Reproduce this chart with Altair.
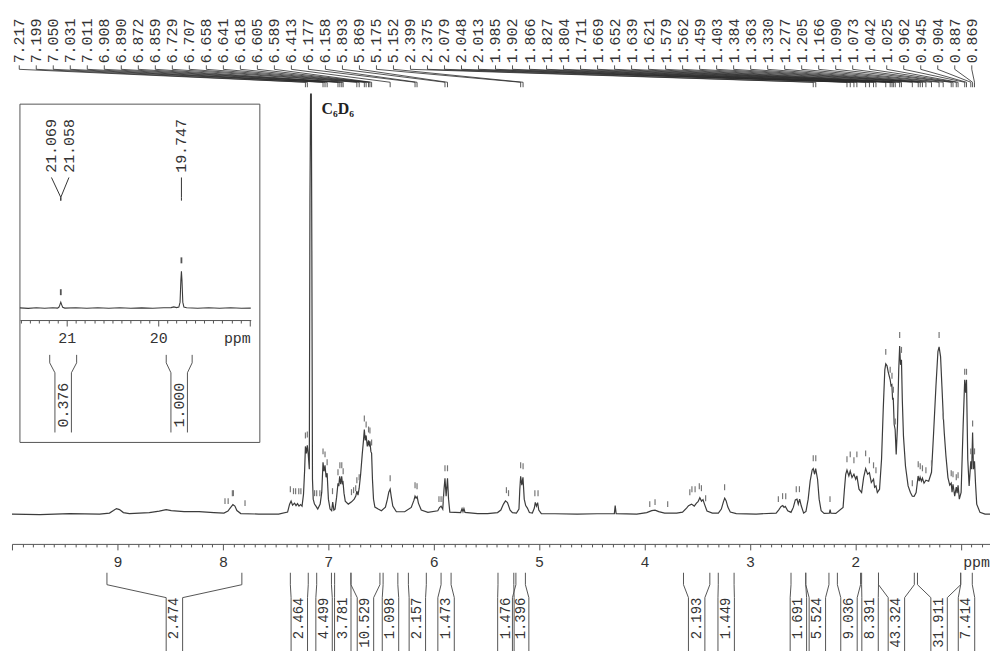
import altair as alt
import pandas as pd
import numpy as np

# ---------------- data ----------------
# 1H spectrum trace: (ppm, intensity in a.u.)
spectrum = [
    (10.001, 0), (9.736, -0.5), (9.453, 0.5), (9.170, 0), (9.076, 1), (9.038, 3.5), (9.010, 5.5),
    (8.981, 4.5), (8.944, 1.5), (8.887, 0.5), (8.698, 1.5), (8.604, 3), (8.538, 4.5), (8.490, 3.5),
    (8.368, 2.5), (8.226, 2.5), (8.085, 1.5), (7.990, 1), (7.952, 3), (7.924, 7), (7.905, 9.5),
    (7.886, 8), (7.867, 3.5), (7.830, 0.5), (7.660, 0), (7.471, 0), (7.386, 2), (7.367, 10),
    (7.353, 13), (7.339, 9), (7.320, 11), (7.306, 8.5), (7.292, 10.5), (7.278, 8), (7.263, 9.5),
    (7.249, 8), (7.235, 20), (7.224, 45), (7.217, 68), (7.208, 61), (7.199, 69), (7.190, 60),
    (7.180, 45), (7.174, 315), (7.168, 422), (7.161, 422), (7.156, 265), (7.150, 35), (7.143, 15),
    (7.131, 10), (7.117, 8), (7.100, 5), (7.077, 10), (7.062, 22), (7.050, 52), (7.041, 43),
    (7.031, 49), (7.021, 37), (7.011, 41), (6.999, 15), (6.983, 5), (6.968, 3.3), (6.958, 12),
    (6.947, 4), (6.936, 5), (6.921, 17), (6.908, 31), (6.900, 28), (6.892, 38), (6.882, 30),
    (6.873, 38), (6.866, 31), (6.860, 32), (6.851, 21), (6.839, 13), (6.810, 10), (6.779, 12.3),
    (6.754, 15), (6.739, 18), (6.729, 23), (6.718, 19), (6.707, 26), (6.693, 40), (6.678, 60),
    (6.667, 73), (6.658, 85), (6.650, 74), (6.641, 79), (6.630, 68), (6.618, 74), (6.611, 68),
    (6.605, 73), (6.596, 63), (6.589, 61), (6.581, 35), (6.571, 15), (6.558, 7), (6.527, 5),
    (6.496, 3.3), (6.458, 7), (6.439, 15), (6.426, 22), (6.413, 25), (6.402, 17), (6.388, 8),
    (6.354, 2.3), (6.275, 2.3), (6.213, 6.7), (6.187, 14), (6.177, 18), (6.167, 16), (6.157, 17.5),
    (6.145, 11), (6.118, 4), (6.055, 1.7), (5.961, 3.3), (5.945, 6.5), (5.930, 8), (5.914, 5),
    (5.902, 25), (5.893, 36), (5.882, 18), (5.869, 36), (5.859, 15), (5.847, 2), (5.744, 1.5),
    (5.731, 5.5), (5.722, 2.3), (5.713, 5.5), (5.703, 1.7), (5.583, 0.5), (5.489, 0.5),
    (5.394, 1.5), (5.363, 4), (5.338, 10), (5.319, 13.3), (5.300, 11.5), (5.275, 4), (5.253, 1.5),
    (5.215, 1), (5.191, 5), (5.183, 25), (5.175, 38), (5.164, 29), (5.153, 37), (5.141, 15),
    (5.127, 8.5), (5.111, 6), (5.092, 1.5), (5.064, 1), (5.045, 6), (5.036, 11.7), (5.025, 8),
    (5.014, 11.5), (5.003, 4), (4.979, 0.5), (4.850, 0.3), (4.639, 0), (4.450, 0.3), (4.286, 0.5),
    (4.278, 8.5), (4.269, 0.5), (4.073, 0), (3.979, 1.5), (3.931, 3.5), (3.900, 4), (3.865, 2.5),
    (3.809, 1), (3.695, 1), (3.639, 2), (3.601, 6), (3.582, 8.5), (3.554, 10), (3.528, 8),
    (3.507, 11), (3.492, 12.5), (3.475, 16.5), (3.459, 13), (3.445, 14.5), (3.431, 10), (3.407, 3),
    (3.356, 1), (3.299, 1), (3.271, 5), (3.252, 12), (3.239, 16), (3.226, 13.5), (3.209, 7),
    (3.186, 2), (3.129, 0.5), (2.940, 0), (2.751, 1), (2.726, 4.3), (2.704, 7.7), (2.688, 8.5),
    (2.676, 6.7), (2.664, 7.7), (2.641, 3.3), (2.610, 1.7), (2.588, 6.7), (2.569, 14.3),
    (2.553, 15), (2.541, 10), (2.528, 15), (2.513, 8.3), (2.490, 1), (2.468, 2.7), (2.447, 15),
    (2.428, 33.3), (2.409, 44.3), (2.399, 45.7), (2.386, 40), (2.376, 45.7), (2.358, 35),
    (2.343, 15), (2.324, 3.3), (2.296, 0.7), (2.246, 1), (2.239, 4.5), (2.232, 1), (2.185, 0.7),
    (2.116, 6.7), (2.103, 25), (2.091, 40), (2.079, 44.3), (2.061, 38.3), (2.048, 43.3),
    (2.031, 36.7), (2.013, 40), (1.996, 35), (1.985, 38.3), (1.965, 25), (1.940, 21.7),
    (1.921, 36.7), (1.902, 45.7), (1.883, 40), (1.866, 41.7), (1.848, 31.7), (1.827, 35),
    (1.817, 27), (1.804, 28.3), (1.791, 21.7), (1.770, 25), (1.751, 55), (1.735, 105),
    (1.720, 145), (1.711, 151), (1.699, 149), (1.688, 143), (1.669, 135), (1.661, 129),
    (1.653, 130), (1.646, 115), (1.640, 117), (1.631, 90), (1.622, 85), (1.612, 60), (1.600, 88.3),
    (1.588, 145), (1.579, 169), (1.571, 150), (1.562, 155), (1.554, 115), (1.543, 78.3),
    (1.524, 48.3), (1.499, 28.3), (1.477, 21.7), (1.459, 18), (1.442, 17.7), (1.423, 21.7),
    (1.404, 38.3), (1.394, 33), (1.385, 37), (1.373, 33), (1.363, 36), (1.348, 31), (1.330, 34),
    (1.304, 33), (1.277, 42), (1.257, 81.7), (1.235, 128.3), (1.216, 163.3), (1.205, 168),
    (1.191, 158.3), (1.178, 128.3), (1.167, 102), (1.156, 81.7), (1.140, 58.3), (1.121, 36.7),
    (1.104, 29), (1.090, 31), (1.082, 22), (1.073, 30), (1.057, 18), (1.042, 27), (1.034, 21),
    (1.025, 29), (1.013, 15), (0.996, 21.7), (0.977, 88.3), (0.962, 135), (0.953, 122),
    (0.945, 135), (0.933, 55), (0.920, 28.3), (0.904, 53), (0.896, 45), (0.887, 82), (0.879, 45),
    (0.869, 53), (0.859, 30), (0.848, 10), (0.817, 1.7), (0.769, 0), (0.722, 0),
]

# picked peaks (labels at the top)
peak_labels = [
    7.217, 7.199, 7.050, 7.031, 7.011, 6.908, 6.890, 6.872, 6.859, 6.729, 6.707, 6.658, 6.641,
    6.618, 6.605, 6.589, 6.413, 6.177, 6.158, 5.893, 5.869, 5.175, 5.152, 2.399, 2.375, 2.079,
    2.048, 2.013, 1.985, 1.902, 1.866, 1.827, 1.804, 1.711, 1.669, 1.652, 1.639, 1.621, 1.579,
    1.562, 1.459, 1.403, 1.384, 1.363, 1.330, 1.277, 1.205, 1.166, 1.090, 1.073, 1.042, 1.025,
    0.962, 0.945, 0.904, 0.887, 0.869,
]

# small peak-pick marks above the trace: (ppm, intensity of mark foot)
pick_marks = [
    (7.217, 76), (7.199, 77), (7.050, 60), (7.031, 57), (7.011, 49), (6.908, 39), (6.890, 46),
    (6.872, 46), (6.859, 40), (6.729, 31), (6.707, 34), (6.658, 93), (6.641, 87), (6.618, 82),
    (6.605, 81), (6.589, 69), (6.413, 33), (6.177, 26), (6.158, 25), (5.893, 43), (5.869, 43),
    (5.175, 46), (5.152, 45), (2.399, 53), (2.375, 53), (2.079, 52), (2.048, 57), (2.013, 51),
    (1.985, 57), (1.902, 58), (1.866, 51), (1.827, 46), (1.804, 41), (1.711, 160), (1.669, 142),
    (1.652, 136), (1.639, 122), (1.621, 90), (1.579, 177), (1.562, 162), (1.459, 28), (1.403, 47),
    (1.384, 45), (1.363, 43), (1.330, 41), (1.277, 48), (1.205, 177), (1.166, 95), (1.090, 38),
    (1.073, 37), (1.042, 34), (1.025, 36), (0.962, 140), (0.945, 140), (0.904, 60), (0.887, 88),
    (0.869, 60),
    (7.98, 10), (7.95, 10), (7.91, 18), (7.90, 18), (7.79, 8), (7.36, 22), (7.33, 20), (7.31, 20),
    (7.28, 20), (7.26, 20), (7.13, 18), (7.11, 18), (7.08, 18), (6.96, 20), (6.78, 19), (6.76, 21),
    (6.74, 23), (5.95, 12), (5.93, 12), (5.91, 12), (5.31, 21), (5.29, 18), (5.04, 18), (5.01, 18),
    (3.95, 7), (3.90, 9), (3.78, 7), (3.57, 19), (3.55, 22), (3.52, 22), (3.48, 25), (3.46, 23),
    (3.42, 13), (3.24, 24), (2.73, 12), (2.69, 15), (2.66, 15), (2.56, 22), (2.53, 22), (2.24, 12),
]

# integrals: (start ppm, end ppm) and value
integral_ranges = [
    (9.10, 7.82), (7.36, 7.19), (7.11, 6.97), (6.94, 6.785), (6.785, 6.51), (6.48, 6.34),
    (6.24, 6.07), (5.93, 5.835), (5.39, 5.24), (5.22, 5.13), (3.63, 3.38), (3.30, 3.15),
    (2.61, 2.47), (2.47, 2.25), (2.17, 1.95), (1.94, 1.78), (1.78, 1.44), (1.41, 1.00), (1.00, 0.89),
]
integral_values = [
    "2.474", "2.464", "4.499", "3.781", "10.529", "1.098", "2.157", "1.473", "1.476", "1.396",
    "2.193", "1.449", "1.691", "5.524", "9.036", "8.391", "43.324", "31.911", "7.414",
]

# inset (13C region)
inset_spectrum = [
    (21.51, 0.2), (21.42, -0.3), (21.33, 0.3), (21.24, -0.2), (21.15, 0.3), (21.10, 0),
    (21.085, 0.8), (21.075, 3), (21.064, 6), (21.053, 3), (21.043, 0.8), (21.02, 0), (20.90, 0.3),
    (20.78, -0.2), (20.66, 0.3), (20.54, -0.2), (20.42, 0.3), (20.30, -0.2), (20.18, 0.2),
    (20.06, -0.2), (19.94, 0.3), (19.86, 0.5), (19.83, 1.2), (19.80, 0.5), (19.775, 1),
    (19.762, 6), (19.753, 28), (19.747, 37), (19.741, 28), (19.732, 6), (19.72, 1), (19.69, 0.3),
    (19.57, -0.2), (19.45, 0.3), (19.33, -0.2), (19.21, 0.3), (19.09, -0.2), (18.99, 0),
]
inset_peaks = [21.069, 21.058, 19.747]
inset_peak_pos = [21.064, 21.064, 19.747]
inset_label_pos = [21.166, 20.975, 19.747]
inset_marks = [(21.064, 13), (19.747, 45)]
inset_integral_ranges = [(21.185, 20.891), (19.913, 19.630)]
inset_integral_values = ["0.376", "1.000"]

# ---------------- styling / layout ----------------
FONT = "Liberation Mono"
TXT = "#333333"
LINE = "#3c3c3c"

W, H = 983, 537
xs = alt.Scale(domain=[0.722, 10.001], reverse=True, nice=False, zero=False)
ys = alt.Scale(domain=[-30, 507], nice=False, zero=False)

main_ticks = [round(k / 10, 1) for k in range(8, 101)]
main_axis = alt.Axis(
    values=main_ticks, title=None, grid=False,
    labelExpr="(datum.value % 1 == 0 && datum.value >= 2 && datum.value <= 9) ? format(datum.value, 'd') : ''",
    tickSize={"condition": {"test": "datum.value % 1 == 0", "value": 6}, "value": 3},
    labelFont=FONT, labelFontSize=15, labelColor=TXT, labelPadding=5,
    domainColor="#555", tickColor="#555", labelOverlap=False, labelFlush=False, labelBound=False,
)
X = alt.X("ppm:Q", scale=xs, axis=main_axis)
Y = alt.Y("v:Q", scale=ys, axis=None)

spec_df = pd.DataFrame(spectrum, columns=["ppm", "v"])
spec_df["k"] = np.arange(len(spec_df))
trace = alt.Chart(spec_df).mark_line(color=LINE, strokeWidth=1.2).encode(X, Y, order="k:Q")

mk_df = pd.DataFrame(pick_marks, columns=["ppm", "v"])
mk_df["v2"] = mk_df["v"] + 6
marks = alt.Chart(mk_df).mark_rule(color="#777", strokeWidth=1.2).encode(X, Y, y2="v2:Q")

# top labels, evenly spread, with connectors
n = len(peak_labels)
lab_x = np.linspace(9.932, 0.895, n)
lab_df = pd.DataFrame({"ppm": lab_x, "v": 453, "t": [f"{p:.3f}" for p in peak_labels]})
top_text = alt.Chart(lab_df).mark_text(
    angle=270, align="left", baseline="middle", font=FONT, fontSize=15, color=TXT
).encode(X, Y, text="t:N")
conn_rows = []
for i, (lx, p) in enumerate(zip(lab_x, peak_labels)):
    for k, (xx, vv) in enumerate([(lx, 451), (lx, 447), (p, 434), (p, 429)]):
        conn_rows.append({"id": i, "k": k, "ppm": xx, "v": vv})
conn = alt.Chart(pd.DataFrame(conn_rows)).mark_line(color="#2a2a2a", strokeWidth=0.8).encode(
    X, Y, detail="id:N", order="k:Q")

# integrals below the axis
HW = 0.078
LV = [-59, -71, -84, -140]
br_rows, it_rows = [], []
for i, ((hi, lo), val) in enumerate(zip(integral_ranges, integral_values)):
    c = (hi + lo) / 2
    for side, edge, inner in (("l", hi, c + HW), ("r", lo, c - HW)):
        for k, (xx, vv) in enumerate([(edge, LV[0]), (edge, LV[1]), (inner, LV[2]), (inner, LV[3])]):
            br_rows.append({"id": f"{i}{side}", "k": k, "ppm": xx, "v": vv})
    it_rows.append({"ppm": c, "v": -84, "t": val})
brackets = alt.Chart(pd.DataFrame(br_rows)).mark_line(color="#555", strokeWidth=1).encode(
    X, Y, detail="id:N", order="k:Q")
int_text = alt.Chart(pd.DataFrame(it_rows)).mark_text(
    angle=270, align="right", baseline="middle", font=FONT, fontSize=14, color=TXT
).encode(X, Y, text="t:N")

solvent = alt.Chart(pd.DataFrame({"ppm": [7.065], "v": [402], "t": ["C₆D₆"]})).mark_text(
    align="left", baseline="alphabetic", font="Liberation Serif", fontSize=16, fontWeight="bold",
    color="#222"
).encode(X, Y, text="t:N")
ppm_main = alt.Chart(pd.DataFrame({"ppm": [0.722], "v": [-48], "t": ["ppm"]})).mark_text(
    align="right", baseline="middle", font=FONT, fontSize=15, color=TXT
).encode(X, Y, text="t:N")

main = alt.layer(trace, marks, conn, top_text, brackets, int_text, solvent, ppm_main)

# ---------------- inset ----------------
ixs = alt.Scale(domain=[18.99, 21.51], range=[240, 8], nice=False, zero=False)
iys = alt.Scale(domain=[0, 100], range=[300, 200], nice=False, zero=False)
inset_ticks = [round(k / 10, 1) for k in range(190, 216)]
inset_axis = alt.Axis(
    values=inset_ticks, title=None, grid=False, orient="bottom", offset=-225,
    labelExpr="(datum.value == 20 || datum.value == 21) ? format(datum.value, 'd') : ''",
    tickSize={"condition": {"test": "datum.value % 1 == 0", "value": 6}, "value": 3},
    labelFont=FONT, labelFontSize=15, labelColor=TXT, labelPadding=5,
    domainColor="#555", tickColor="#555", labelOverlap=False, labelFlush=False, labelBound=False,
)
IX = alt.X("ppm:Q", scale=ixs, axis=inset_axis)
IY = alt.Y("v:Q", scale=iys, axis=None)

frame = alt.Chart(pd.DataFrame({"ppm": [21.51], "ppm2": [18.891], "v": [205], "v2": [-135]})).mark_rect(
    fillOpacity=0, stroke="#555", strokeWidth=1
).encode(IX, IY, x2="ppm2:Q", y2="v2:Q")
ins_df = pd.DataFrame(inset_spectrum, columns=["ppm", "v"])
ins_df["k"] = np.arange(len(ins_df))
ins_trace = alt.Chart(ins_df).mark_line(color=LINE, strokeWidth=1.1).encode(IX, IY, order="k:Q")
imk = pd.DataFrame(inset_marks, columns=["ppm", "v"])
imk["v2"] = imk["v"] + 6
ins_marks = alt.Chart(imk).mark_rule(color="#555", strokeWidth=1.8).encode(IX, IY, y2="v2:Q")
ins_lab = alt.Chart(pd.DataFrame({"ppm": inset_label_pos, "v": 136,
                                  "t": [f"{p:.3f}" for p in inset_peaks]})).mark_text(
    angle=270, align="left", baseline="middle", font=FONT, fontSize=15, color=TXT
).encode(IX, IY, text="t:N")
ic_rows = []
for i, (lx, p) in enumerate(zip(inset_label_pos, inset_peak_pos)):
    for k, (xx, vv) in enumerate([(lx, 131.3), (p, 111.3), (p, 108)]):
        ic_rows.append({"id": i, "k": k, "ppm": xx, "v": vv})
ins_conn = alt.Chart(pd.DataFrame(ic_rows)).mark_line(color="#333", strokeWidth=1).encode(
    IX, IY, detail="id:N", order="k:Q")
IHW = 0.090
ILV = [-47, -55, -65, -125]
ib_rows, iit_rows = [], []
for i, ((hi, lo), val) in enumerate(zip(inset_integral_ranges, inset_integral_values)):
    c = (hi + lo) / 2
    for side, edge, inner in (("l", hi, c + IHW), ("r", lo, c - IHW)):
        for k, (xx, vv) in enumerate([(edge, ILV[0]), (edge, ILV[1]), (inner, ILV[2]), (inner, ILV[3])]):
            ib_rows.append({"id": f"{i}{side}", "k": k, "ppm": xx, "v": vv})
    iit_rows.append({"ppm": c, "v": -75, "t": val})
ins_br = alt.Chart(pd.DataFrame(ib_rows)).mark_line(color="#555", strokeWidth=1).encode(
    IX, IY, detail="id:N", order="k:Q")
ins_it = alt.Chart(pd.DataFrame(iit_rows)).mark_text(
    angle=270, align="right", baseline="middle", font=FONT, fontSize=15, color=TXT
).encode(IX, IY, text="t:N")
ins_ppm = alt.Chart(pd.DataFrame({"ppm": [18.99], "v": [-30], "t": ["ppm"]})).mark_text(
    align="right", baseline="middle", font=FONT, fontSize=15, color=TXT
).encode(IX, IY, text="t:N")

inset = alt.layer(frame, ins_trace, ins_marks, ins_conn, ins_lab, ins_br, ins_it, ins_ppm)

chart = alt.layer(main, inset).resolve_scale(x="independent", y="independent").properties(
    width=W, height=H,
    padding={"left": 4, "top": 0, "right": 0, "bottom": 106},
    autosize=alt.AutoSizeParams(type="none"),
    background="white",
).configure_view(stroke=None)

chart.save("out.html", embed_options={"renderer": "svg", "actions": False})
